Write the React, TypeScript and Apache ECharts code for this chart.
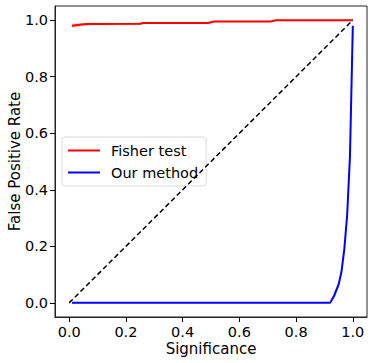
import React, { useEffect, useRef } from "react";
import * as echarts from "echarts";

const xTicks = [0, 0.2, 0.4, 0.6, 0.8, 1.0];
const yTicks = [0, 0.2, 0.4, 0.6, 0.8, 1.0];

const fisherX = [0.01, 0.03, 0.06, 0.1, 0.25, 0.26, 0.49, 0.51, 0.71, 0.73, 1.0];
const fisherY = [0.98, 0.983, 0.986, 0.986, 0.987, 0.99, 0.99, 0.995, 0.995, 1.0, 1.0];
const fisherErr = [0.007, 0.006, 0.005, 0.004, 0.004, 0.003, 0.003, 0.002, 0.002, 0.0, 0.0];

const ourX = [0.01, 0.92, 0.935, 0.95, 0.96, 0.97, 0.98, 0.99, 1.0];
const ourY = [0, 0, 0.027, 0.065, 0.11, 0.19, 0.31, 0.52, 0.98];
const ourErr = [0, 0, 0.012, 0.01, 0.008, 0.006, 0.005, 0.005, 0];

const diagX = [0, 1];
const diagY = [0, 1];

const FONT = "DejaVu Sans";
const FS = 15;
const TICK_FS = 14.5;

function pairs(xs: number[], ys: number[]) {
  return xs.map((x, i) => [x, ys[i]]);
}

function bandSeries(xs: number[], ys: number[], err: number[], color: string) {
  return {
    type: "custom",
    silent: true,
    z: 1,
    data: [0],
    renderItem: (_params: any, api: any) => {
      const upper = xs.map((x, i) => api.coord([x, ys[i] + err[i]]));
      const lower = xs.map((x, i) => api.coord([x, ys[i] - err[i]])).reverse();
      return {
        type: "polygon",
        shape: { points: upper.concat(lower) },
        style: { fill: color, opacity: 0.25 },
      };
    },
  };
}

export default function App() {
  const ref = useRef<HTMLDivElement>(null);
  useEffect(() => {
    if (!ref.current) return;
    const chart = echarts.init(ref.current, null, { renderer: "svg" });
    chart.setOption({
      animation: false,
      textStyle: { fontFamily: FONT },
      grid: {
        left: 55,
        top: 6,
        right: 7,
        bottom: 46,
        containLabel: false,
        outerBoundsMode: "none",
        show: true,
        borderColor: "#222",
        borderWidth: 1,
        backgroundColor: "transparent",
      },
      legend: {
        left: 62,
        top: 137,
        orient: "vertical",
        data: ["Fisher test", "Our method"],
        itemWidth: 32,
        itemHeight: 14,
        itemGap: 7,
        padding: [6, 8, 6, 5],
        borderColor: "#d9d9d9",
        borderWidth: 1,
        borderRadius: 3,
        itemStyle: { opacity: 0 },
        textStyle: { fontFamily: FONT, fontSize: 14.5, color: "#000", padding: [0, 0, 0, 6] },
      },
      xAxis: {
        type: "value",
        min: -0.05,
        max: 1.05,
        name: "Significance",
        nameLocation: "middle",
        nameGap: 24,
        nameMoveOverlap: false,
        nameTextStyle: { fontFamily: FONT, fontSize: FS, color: "#000" },
        splitLine: { show: false },
        axisLine: { show: true, onZero: false, lineStyle: { color: "#222", width: 1 } },
        axisTick: { show: true, length: 5, lineStyle: { color: "#000" }, customValues: xTicks },
        axisLabel: {
          fontFamily: FONT,
          fontSize: TICK_FS,
          color: "#000",
          margin: 7,
          customValues: xTicks,
          formatter: (v: number) => v.toFixed(1),
        },
      },
      yAxis: {
        type: "value",
        min: -0.05,
        max: 1.05,
        name: "False Positive Rate",
        nameLocation: "middle",
        nameGap: 33,
        nameMoveOverlap: false,
        nameRotate: 90,
        nameTextStyle: { fontFamily: FONT, fontSize: FS, color: "#000" },
        splitLine: { show: false },
        axisLine: { show: true, onZero: false, lineStyle: { color: "#222", width: 1 } },
        axisTick: { show: true, length: 5, lineStyle: { color: "#000" }, customValues: yTicks },
        axisLabel: {
          fontFamily: FONT,
          fontSize: TICK_FS,
          color: "#000",
          margin: 7,
          customValues: yTicks,
          formatter: (v: number) => v.toFixed(1),
        },
      },
      series: [
        bandSeries(fisherX, fisherY, fisherErr, "#ff0000"),
        bandSeries(ourX, ourY, ourErr, "#0000ff"),
        {
          name: "Fisher test",
          type: "line",
          symbol: "none",
          data: pairs(fisherX, fisherY),
          lineStyle: { color: "#ff0000", width: 2 },
          itemStyle: { color: "#ff0000" },
          z: 3,
        },
        {
          name: "Our method",
          type: "line",
          symbol: "none",
          data: pairs(ourX, ourY),
          lineStyle: { color: "#0000ff", width: 2 },
          itemStyle: { color: "#0000ff" },
          z: 3,
        },
        {
          name: "diag",
          type: "line",
          symbol: "none",
          data: pairs(diagX, diagY),
          lineStyle: { color: "#000", width: 1.5, type: [5, 3] },
          z: 4,
        },
      ],
    });
    return () => chart.dispose();
  }, []);
  return (
    <div
      ref={ref}
      style={{ position: "absolute", left: 0, top: 0, width: 374, height: 363 }}
    />
  );
}
